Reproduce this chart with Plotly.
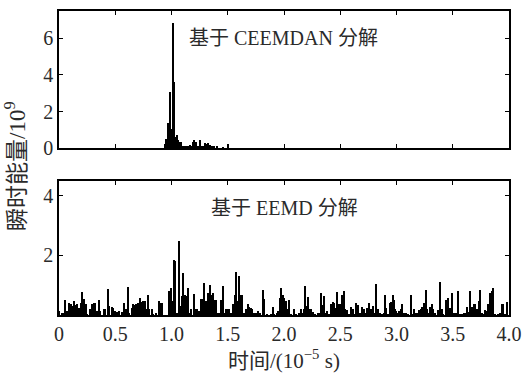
import plotly.graph_objects as go
from plotly.subplots import make_subplots

# ---- data (time in 1e-5 s, energy in 1e9) ----
ceemdan_t = [0.940, 0.955, 0.967, 0.975, 0.987, 0.999, 1.007, 1.016, 1.025, 1.036,
             1.048, 1.060, 1.074, 1.089, 1.103, 1.118, 1.132, 1.147, 1.162, 1.176,
             1.191, 1.205, 1.220, 1.234, 1.252, 1.266, 1.284, 1.301, 1.316, 1.330,
             1.345, 1.362, 1.377, 1.409, 1.459, 1.505]
ceemdan_e = [0.24, 0.51, 1.38, 1.40, 3.08, 0.51, 1.05, 6.85, 3.59, 0.60,
             0.69, 0.42, 0.36, 0.33, 0.14, 0.11, 0.14, 0.11, 0.18, 0.14,
             0.33, 0.47, 0.36, 0.11, 0.42, 0.14, 0.11, 0.27, 0.24, 0.27,
             0.18, 0.14, 0.09, 0.11, 0.04, 0.25]

eemd_t = [0.006, 0.026, 0.038, 0.055, 0.070, 0.093, 0.108, 0.119, 0.137, 0.151,
          0.166, 0.181, 0.195, 0.210, 0.224, 0.239, 0.253, 0.282, 0.297, 0.312,
          0.326, 0.341, 0.358, 0.370, 0.399, 0.413, 0.434, 0.448, 0.472, 0.486,
          0.501, 0.521, 0.539, 0.559, 0.582, 0.594, 0.611, 0.623, 0.649, 0.664,
          0.675, 0.690, 0.705, 0.719, 0.734, 0.748, 0.763, 0.777, 0.792, 0.806,
          0.827, 0.841, 0.865, 0.888, 0.902, 0.917, 0.981, 0.996, 1.010, 1.025,
          1.036, 1.051, 1.066, 1.080, 1.095, 1.106, 1.118, 1.132, 1.147, 1.162,
          1.179, 1.199, 1.214, 1.229, 1.243, 1.263, 1.275, 1.290, 1.307,
          1.328, 1.342, 1.354, 1.368, 1.383, 1.397, 1.412, 1.429, 1.441, 1.459,
          1.470, 1.485, 1.499, 1.514, 1.528, 1.552, 1.563, 1.572, 1.584, 1.598,
          1.613, 1.627, 1.645, 1.662, 1.680, 1.691, 1.706, 1.720, 1.735, 1.755,
          1.773, 1.793, 1.814, 1.828, 1.849, 1.887, 1.901, 1.916, 1.936, 1.951,
          1.965, 1.977, 1.991, 2.003, 2.017, 2.032, 2.046, 2.061, 2.087, 2.111,
          2.134, 2.154, 2.169, 2.183, 2.192, 2.207, 2.218, 2.233, 2.245, 2.259,
          2.280, 2.303, 2.317, 2.329, 2.344, 2.355, 2.370, 2.384, 2.402, 2.419,
          2.434, 2.448, 2.463, 2.477, 2.492, 2.507, 2.521, 2.536, 2.547, 2.565,
          2.579, 2.600, 2.614, 2.629, 2.646,
          2.664, 2.678, 2.699, 2.713, 2.728, 2.742, 2.757, 2.771, 2.792, 2.806,
          2.824, 2.838, 2.859, 2.873, 2.888, 2.897, 2.908, 2.923, 2.940, 2.955,
          2.969, 2.981, 2.993, 3.004, 3.025, 3.039, 3.054, 3.068, 3.083, 3.106,
          3.127, 3.141, 3.159, 3.173, 3.188, 3.202, 3.217, 3.231, 3.246, 3.261,
          3.275, 3.290, 3.301, 3.316, 3.330, 3.345, 3.368, 3.389, 3.403, 3.418,
          3.441, 3.456, 3.470, 3.485, 3.499, 3.514, 3.528, 3.549, 3.563, 3.587,
          3.601, 3.616, 3.630, 3.645, 3.659, 3.674, 3.688, 3.703, 3.718, 3.732,
          3.747, 3.761, 3.776, 3.790, 3.805, 3.819, 3.834, 3.849, 3.863, 3.878,
          3.907, 3.921, 3.936, 3.950, 3.965, 3.980]
eemd_e = [0.14, 0.08, 0.08, 0.52, 0.12, 0.39, 0.36, 0.30, 0.47, 0.33,
          0.36, 0.25, 0.39, 0.77, 0.55, 0.36, 0.05, 0.19, 0.36, 0.41,
          0.39, 0.14, 0.52, 0.14, 0.19, 0.22, 0.89, 0.30, 0.28, 0.25,
          0.14, 0.10, 0.14, 0.10, 0.41, 0.19, 0.94, 0.08, 0.25, 0.36,
          0.34, 0.36, 0.41, 0.56, 0.44, 0.47, 0.47, 0.19, 0.66, 0.22,
          0.19, 0.05, 0.08, 0.47, 0.39, 0.39, 0.80, 0.91, 0.47, 1.85,
          1.82, 0.08, 2.49, 0.30, 0.63, 1.41, 0.69, 0.63, 0.91, 0.08,
          0.19, 0.72, 0.19, 0.22, 0.14, 0.55, 0.55, 1.08, 0.47,
          0.74, 1.02, 0.69, 0.74, 0.52, 0.52, 0.08, 0.08, 0.52, 0.96,
          0.08, 0.19, 0.22, 0.19, 0.08, 0.36, 0.69, 1.46, 0.47, 1.32,
          0.69, 0.66, 0.08, 0.22, 0.38, 0.28, 0.25, 0.19, 0.08, 0.08,
          0.14, 0.08, 0.83, 0.55, 0.03, 0.03, 0.28, 0.03, 0.08, 0.14,
          0.58, 0.91, 0.69, 0.58, 0.47, 0.19, 0.52, 0.03, 0.22, 0.03,
          0.08, 0.19, 0.08, 0.19, 0.99, 0.30, 0.60, 0.22, 0.22, 0.10,
          0.03, 0.08, 0.08, 0.74, 0.33, 0.63, 0.08, 0.14, 0.03, 0.36,
          0.44, 0.39, 0.25, 0.77, 0.36, 0.36, 0.66, 0.80, 0.19, 0.17,
          0.03, 0.28, 0.22, 0.03, 0.39,
          0.33, 0.08, 0.28, 0.22, 0.08, 0.25, 0.41, 0.22, 0.30, 0.08,
          1.04, 0.19, 0.08, 0.03, 0.08, 0.66, 0.25, 0.03, 0.41, 0.44,
          0.68, 0.52, 0.22, 0.08, 0.14, 0.19, 0.36, 0.08, 0.08, 0.03,
          0.69, 0.03, 0.19, 0.08, 0.08, 0.17, 0.22, 0.28, 0.39, 0.83,
          0.19, 0.08, 0.28, 0.36, 0.19, 0.08, 0.17, 1.11, 0.19, 0.03,
          0.52, 0.57, 0.25, 0.25, 0.74, 0.08, 0.08, 0.81, 0.03, 0.03,
          0.06, 0.08, 0.28, 0.10, 0.81, 0.28, 0.36, 0.36, 0.19, 0.47,
          0.85, 0.08, 0.03, 0.17, 0.14, 0.36, 0.74, 0.80, 0.91, 0.03,
          0.03, 0.08, 0.36, 0.36, 0.03, 0.44]

x_tickvals = [0, 0.5, 1.0, 1.5, 2.0, 2.5, 3.0, 3.5, 4.0]
x_ticktext = ["0", "0.5", "1.0", "1.5", "2.0", "2.5", "3.0", "3.5", "4.0"]
top_yticks = [0, 2, 4, 6]
bot_yticks = [2, 4]

FONT = "Liberation Serif, Noto Sans CJK SC"
TXT = "#2a2a2a"

fig = make_subplots(rows=2, cols=1, vertical_spacing=0.0)

fig.add_trace(go.Bar(x=ceemdan_t, y=ceemdan_e, width=0.012,
                     marker=dict(color="black", line=dict(width=0)),
                     showlegend=False), row=1, col=1)
fig.add_trace(go.Bar(x=eemd_t, y=eemd_e, width=0.013,
                     marker=dict(color="black", line=dict(width=0)),
                     showlegend=False), row=2, col=1)

axis_common = dict(showline=True, linecolor="black", linewidth=1.5, mirror="allticks",
                   ticks="inside", ticklen=4, tickwidth=1.2, tickcolor="black",
                   showgrid=False, zeroline=False,
                   tickfont=dict(family=FONT, size=20, color=TXT))

fig.update_layout(
    width=531, height=378,
    margin=dict(l=59, r=14, t=9, b=63),
    paper_bgcolor="white", plot_bgcolor="white",
    font=dict(family=FONT, color=TXT),
    bargap=0,
    xaxis=dict(domain=[0, 1], range=[0, 4], tickvals=x_tickvals, showticklabels=False,
               anchor="y", **axis_common),
    yaxis=dict(domain=[0.549, 1.0], range=[0, 7.5], tickvals=top_yticks, anchor="x",
               **axis_common),
    xaxis2=dict(domain=[0, 1], range=[0, 4], tickvals=x_tickvals, ticktext=x_ticktext,
                anchor="y2", **axis_common),
    yaxis2=dict(domain=[0.0, 0.441], range=[0, 4.5], tickvals=bot_yticks, anchor="x2",
                **axis_common),
    annotations=[
        dict(text="基于 CEEMDAN 分解", xref="x", yref="y", x=1.14, y=6.0,
             xanchor="left", yanchor="middle", showarrow=False,
             font=dict(family=FONT, size=20, color=TXT)),
        dict(text="基于 EEMD 分解", xref="x2", yref="y2", x=1.33, y=3.6,
             xanchor="left", yanchor="middle", showarrow=False,
             font=dict(family=FONT, size=20, color=TXT)),
        dict(text="瞬时能量/10<sup>9</sup>", xref="paper", yref="paper", x=-0.098, y=0.49,
             xanchor="center", yanchor="middle", textangle=-90, showarrow=False,
             font=dict(family=FONT, size=23, color=TXT)),
        dict(text="时间/(10<sup>−5</sup> s)", xref="paper", yref="paper", x=0.50, y=-0.147,
             xanchor="center", yanchor="middle", showarrow=False,
             font=dict(family=FONT, size=21, color=TXT)),
    ],
)

fig.write_html("out.html")
